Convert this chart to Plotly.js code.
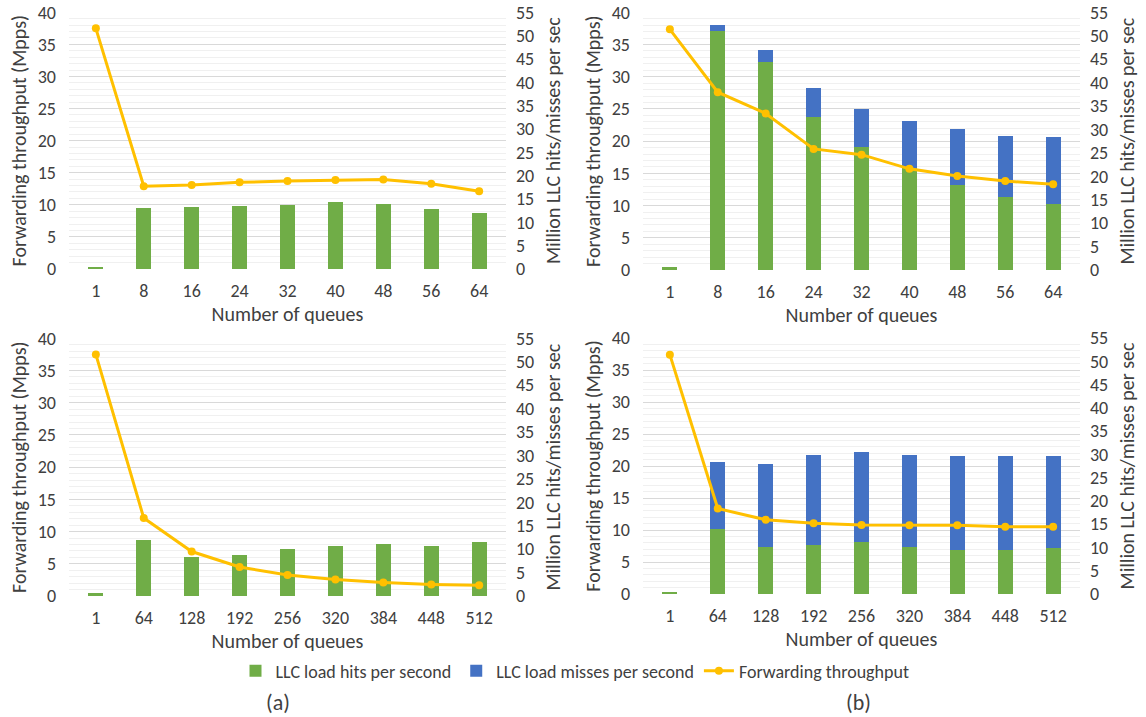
<!DOCTYPE html>
<html>
<head>
<meta charset="utf-8">
<script src="https://cdn.plot.ly/plotly-3.0.1.min.js"></script>
<style>html,body{margin:0;padding:0;background:#fff;}#chart{width:1146px;height:717px;}</style>
</head>
<body>
<div id="chart"></div>
<script>
// ---- Data ----
const queuesTop = ['1','8','16','24','32','40','48','56','64'];
const queuesBottom = ['1','64','128','192','256','320','384','448','512'];

// (a) top
const hitsTopA = [0.5, 13.0, 13.2, 13.5, 13.8, 14.25, 14.0, 12.8, 12.0];
const thrTopA = [37.5, 12.9, 13.1, 13.5, 13.7, 13.85, 13.95, 13.3, 12.1];

// (b) top
const hitsTopB = [0.55, 51.0, 44.3, 32.6, 26.3, 21.8, 18.1, 15.6, 14.0];
const missTopB = [0, 1.2, 2.7, 6.2, 8.1, 10.0, 11.9, 13.1, 14.3];
const thrTopB = [37.35, 27.6, 24.3, 18.8, 17.9, 15.7, 14.6, 13.8, 13.3];

// (a) bottom
const hitsBotA = [0.55, 12.0, 8.3, 8.75, 10.0, 10.75, 11.0, 10.7, 11.5];
const thrBotA = [37.5, 12.1, 6.9, 4.5, 3.25, 2.55, 2.1, 1.8, 1.65];

// (b) bottom
const hitsBotB = [0.5, 14.0, 10.1, 10.5, 11.1, 10.0, 9.5, 9.5, 9.8];
const missBotB = [0, 14.4, 17.9, 19.4, 19.4, 19.9, 20.2, 20.1, 19.95];
const thrBotB = [37.4, 13.35, 11.6, 11.05, 10.8, 10.75, 10.75, 10.5, 10.5];

// ---- Styles ----
const GREEN = '#70AD47', BLUE = '#4472C4', GOLD = '#FFC000';
const FONT = 'Carlito, Lato, sans-serif';
const TXT = '#404040';

function hits(x, y, xa, ya, show) {
  return {type:'bar', x:x, y:y, xaxis:xa, yaxis:ya, name:'LLC load hits per second',
    marker:{color:GREEN}, showlegend:show, legendrank:1, legendgroup:'h'};
}
function miss(x, y, xa, ya, show) {
  return {type:'bar', x:x, y:y, xaxis:xa, yaxis:ya, name:'LLC load misses per second',
    marker:{color:BLUE}, showlegend:show, legendrank:2, legendgroup:'m'};
}
function thr(x, y, xa, ya, show) {
  return {type:'scatter', mode:'lines+markers', x:x, y:y, xaxis:xa, yaxis:ya,
    name:'Forwarding throughput', line:{color:GOLD, width:3}, marker:{color:GOLD, size:8},
    showlegend:show, legendrank:3, legendgroup:'t'};
}

const data = [
  hits(queuesTop, hitsTopA, 'x', 'y', true),
  thr(queuesTop, thrTopA, 'x', 'y2', false),
  hits(queuesTop, hitsTopB, 'x2', 'y3', false),
  miss(queuesTop, missTopB, 'x2', 'y3', true),
  thr(queuesTop, thrTopB, 'x2', 'y4', true),
  hits(queuesBottom, hitsBotA, 'x3', 'y5', false),
  thr(queuesBottom, thrBotA, 'x3', 'y6', false),
  hits(queuesBottom, hitsBotB, 'x4', 'y7', false),
  miss(queuesBottom, missBotB, 'x4', 'y7', false),
  thr(queuesBottom, thrBotB, 'x4', 'y8', false)
];

const W = 1146, H = 717;
const xL = [69/W, 506/W], xR = [643/W, 1080/W];
const yT_L = [1-269/H, 1-12.3/H], yT_R = [1-270/H, 1-12.3/H];
const yB_L = [1-596/H, 1-338.3/H], yB_R = [1-594/H, 1-338/H];

function xaxis(dom, anchor) {
  return {domain:dom, anchor:anchor, type:'category', showgrid:false, zeroline:false,
    showline:false, ticks:'', ticklabelstandoff:9, tickfont:{family:FONT, size:18, color:TXT},
    title:{text:'Number of queues', font:{family:FONT, size:20, color:TXT}, standoff:1}};
}
function yRight(dom, anchor) {
  return {domain:dom, anchor:anchor, side:'right', range:[0,55], dtick:5, showgrid:false,
    zeroline:false, showline:false, ticks:'', ticklabelstandoff:9,
    tickfont:{family:FONT, size:18, color:TXT},
    title:{text:'Million LLC hits/misses per sec', font:{family:FONT, size:20, color:TXT}, standoff:12}};
}
function yLeft(over, anchor) {
  return {overlaying:over, anchor:anchor, side:'left', range:[0,40], dtick:5, showgrid:true,
    gridcolor:'#d9d9d9', gridwidth:1, zeroline:false, showline:false, ticks:'',
    ticklabelstandoff:12,
    minor:{dtick:1, showgrid:true, gridcolor:'#f0f0f0', gridwidth:1},
    tickfont:{family:FONT, size:18, color:TXT},
    title:{text:'Forwarding throughput (Mpps)', font:{family:FONT, size:20, color:TXT}, standoff:5}};
}

const layout = {
  width:W, height:H, margin:{l:0, r:0, t:0, b:0},
  paper_bgcolor:'#fff', plot_bgcolor:'rgba(0,0,0,0)',
  barmode:'stack', bargap:0.69,
  font:{family:FONT, color:TXT},
  xaxis: xaxis(xL, 'y'),
  yaxis: yRight(yT_L, 'x'),
  yaxis2: yLeft('y', 'x'),
  xaxis2: xaxis(xR, 'y3'),
  yaxis3: yRight(yT_R, 'x2'),
  yaxis4: yLeft('y3', 'x2'),
  xaxis3: xaxis(xL, 'y5'),
  yaxis5: yRight(yB_L, 'x3'),
  yaxis6: yLeft('y5', 'x3'),
  xaxis4: xaxis(xR, 'y7'),
  yaxis7: yRight(yB_R, 'x4'),
  yaxis8: yLeft('y7', 'x4'),
  legend:{orientation:'h', x:575/W, xanchor:'center', y:1-671/H, yanchor:'middle',
    font:{family:FONT, size:18, color:TXT}, traceorder:'normal', itemwidth:30},
  annotations:[
    {text:'(a)', x:278/W, y:1-702/H, xref:'paper', yref:'paper', showarrow:false,
     xanchor:'center', yanchor:'middle', font:{family:FONT, size:22, color:TXT}},
    {text:'(b)', x:858/W, y:1-702/H, xref:'paper', yref:'paper', showarrow:false,
     xanchor:'center', yanchor:'middle', font:{family:FONT, size:22, color:TXT}}
  ]
};

Plotly.newPlot('chart', data, layout, {displayModeBar:false, staticPlot:true});
</script>
</body>
</html>
